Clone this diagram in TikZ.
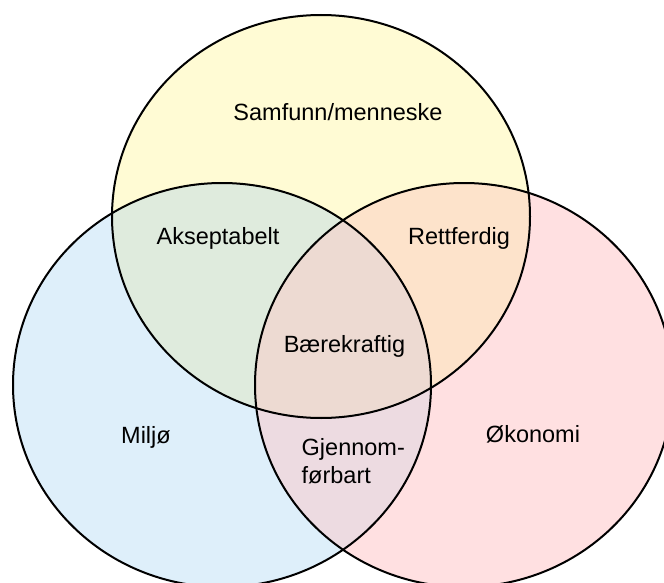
\documentclass[tikz,border=0pt]{standalone}
\usepackage{fontspec}
\setmainfont{Liberation Sans}
\definecolor{cyel}{HTML}{FFFBD4}
\definecolor{cblu}{HTML}{DEEFFA}
\definecolor{cpnk}{HTML}{FFE0E1}
\definecolor{cgrn}{HTML}{DFEBDD}
\definecolor{corg}{HTML}{FDE3CB}
\definecolor{cmau}{HTML}{EDDBE1}
\definecolor{cmid}{HTML}{EDDAD2}
\begin{document}
\begin{tikzpicture}[x=1pt,y=-1pt,
  lbl/.style={font=\fontsize{23.5}{28}\selectfont, inner sep=0pt, anchor=base},
  ring/.style={draw=black, line width=2pt}]
\useasboundingbox (0,0) rectangle (664,583);
\clip (0,0) rectangle (664,583);
\coordinate (cs) at (321,216.5);
\coordinate (cl) at (222,385);
\coordinate (cr) at (464,385);
% base fills
\fill[cyel] (cs) ellipse [x radius=209pt, y radius=201.5pt];
\fill[cblu] (cl) ellipse [x radius=209pt, y radius=202pt];
\fill[cpnk] (cr) ellipse [x radius=209pt, y radius=202pt];
% pairwise overlaps
\begin{scope}
  \clip (cs) ellipse [x radius=209pt, y radius=201.5pt];
  \fill[cgrn] (cl) ellipse [x radius=209pt, y radius=202pt];
  \fill[corg] (cr) ellipse [x radius=209pt, y radius=202pt];
\end{scope}
\begin{scope}
  \clip (cl) ellipse [x radius=209pt, y radius=202pt];
  \fill[cmau] (cr) ellipse [x radius=209pt, y radius=202pt];
\end{scope}
\begin{scope}
  \clip (cs) ellipse [x radius=209pt, y radius=201.5pt];
  \clip (cl) ellipse [x radius=209pt, y radius=202pt];
  \fill[cmid] (cr) ellipse [x radius=209pt, y radius=202pt];
\end{scope}
% outlines
\draw[ring] (cs) ellipse [x radius=209pt, y radius=201.5pt];
\draw[ring] (cl) ellipse [x radius=209pt, y radius=202pt];
\draw[ring] (cr) ellipse [x radius=209pt, y radius=202pt];
% labels
\node[lbl] (samfunn) at (338,121) {Samfunn/menneske};
\node[lbl] (akseptabelt) at (218,244) {Akseptabelt};
\node[lbl] (rettferdig) at (459,244) {Rettferdig};
\node[lbl] (baerekraftig) at (344.5,352.5) {Bærekraftig};
\node[lbl] (miljo) at (146,443) {Miljø};
\node[lbl] (okonomi) at (533,442) {Økonomi};
\node[lbl, anchor=base west] (gjennom) at (301.5,455) {Gjennom-};
\node[lbl, anchor=base west] (forbart) at (301.5,483) {førbart};
\end{tikzpicture}
\end{document}
